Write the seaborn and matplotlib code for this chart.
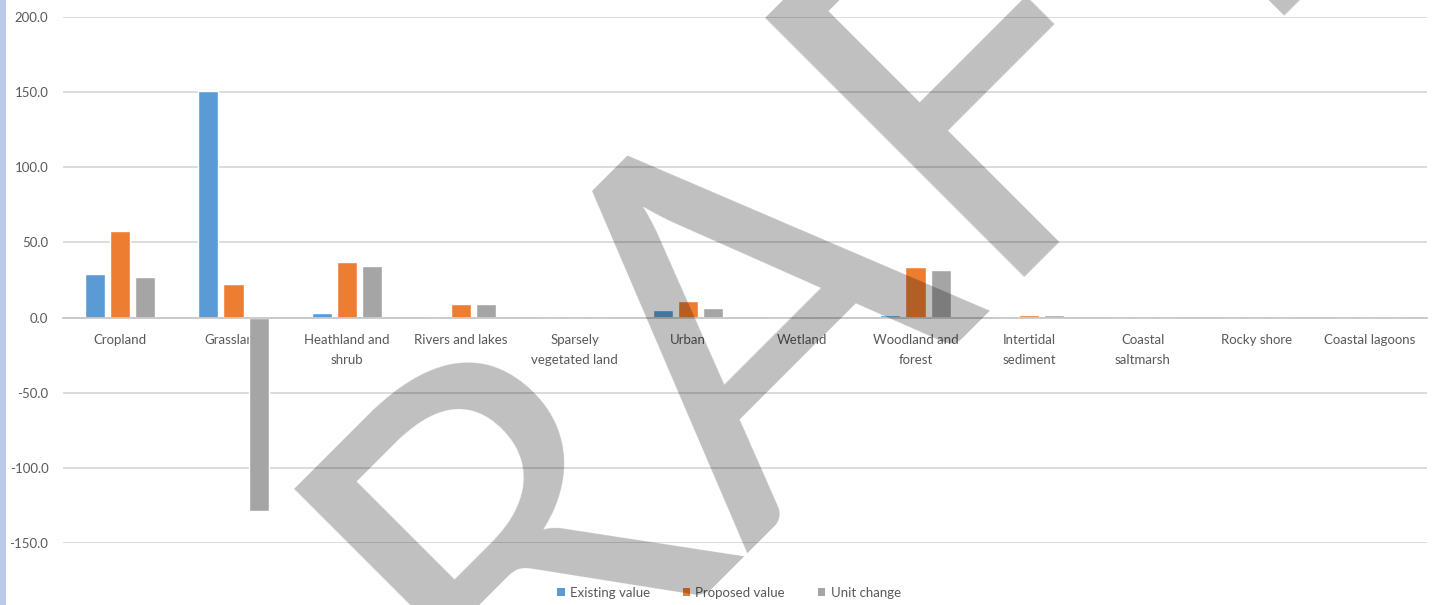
import matplotlib
matplotlib.use("Agg")
import matplotlib.pyplot as plt
from matplotlib.patches import Rectangle, Patch
import pandas as pd
import seaborn as sns

# Land-cover categories and the three value series
categories = [
    "Cropland", "Grassland", "Heathland and\nshrub", "Rivers and lakes",
    "Sparsely\nvegetated land", "Urban", "Wetland", "Woodland and\nforest",
    "Intertidal\nsediment", "Coastal\nsaltmarsh", "Rocky shore", "Coastal lagoons",
]
existing_value = [28.7, 150.9, 3.0, 0.0, 0.0, 4.8, 0.0, 2.0, 0.0, 0.0, 0.0, 0.0]
proposed_value = [57.3, 22.4, 37.3, 9.1, 0.0, 10.9, 0.0, 33.8, 1.5, 0.0, 0.0, 0.0]
unit_change = [27.3, -128.5, 34.3, 9.1, 0.0, 6.1, 0.0, 31.8, 1.5, 0.0, 0.0, 0.0]
series_names = ["Existing value", "Proposed value", "Unit change"]
series_colors = ["#5B9BD5", "#ED7D31", "#A5A5A5"]
y_ticks = [-150, -100, -50, 0, 50, 100, 150, 200]

df = pd.DataFrame({
    "category": categories * 3,
    "series": [s for s in series_names for _ in categories],
    "value": existing_value + proposed_value + unit_change,
})

sns.set_theme(style="white")
plt.rcParams["font.family"] = ["Lato", "DejaVu Sans"]

text_color = "#595959"
W, H = 1439, 605
fig = plt.figure(figsize=(W / 100, H / 100), dpi=100)
fig.patch.set_facecolor("white")
ax = fig.add_axes([63 / W, 1 - 543 / H, (1427 - 63) / W, (543 - 17) / H])

sns.barplot(
    data=df, x="category", y="value", hue="series", order=categories,
    hue_order=series_names, palette=series_colors, saturation=1,
    width=0.66, gap=0.2, errorbar=None, legend=False, ax=ax, zorder=3,
)

ax.set_ylim(-150, 200)
ax.set_xlim(-0.5, len(categories) - 0.5)
ax.set_yticks(y_ticks)
ax.set_yticklabels([f"{v:.1f}" for v in y_ticks])
ax.set_xlabel("")
ax.set_ylabel("")
ax.grid(axis="y", color="#d9d9d9", linewidth=1.3, zorder=0)
ax.grid(axis="x", visible=False)
ax.set_axisbelow(True)
for side in ["left", "right", "top"]:
    ax.spines[side].set_visible(False)
ax.spines["bottom"].set_position(("data", 0))
ax.spines["bottom"].set_color("#c9c9c9")
ax.spines["bottom"].set_linewidth(1.3)
ax.spines["bottom"].set_zorder(4)
ax.tick_params(axis="x", length=0, pad=12, labelsize=9.5, labelcolor=text_color)
ax.tick_params(axis="y", length=0, pad=10.5, labelsize=9.5, labelcolor=text_color)
for lbl in ax.get_xticklabels():
    lbl.set_linespacing(1.75)

handles = [Patch(facecolor=c, edgecolor="none") for c in series_colors]
fig.legend(
    handles, series_names, loc="center", bbox_to_anchor=(729 / W, 1 - 593 / H),
    ncol=3, frameon=False, fontsize=9.5, labelcolor=text_color,
    handlelength=0.55, handleheight=0.55, handletextpad=0.4, columnspacing=2.5,
)

# Left page margin stripe
fig.patches.append(Rectangle((0, 0), 6 / W, 1, transform=fig.transFigure,
                             facecolor="#b8cae8", edgecolor="none", zorder=0))

# Diagonal DRAFT watermark over the chart
fig.text(814 / W, 1 - 440 / H, "DRAFT", rotation=45, rotation_mode="anchor",
         ha="center", va="baseline", fontsize=368, color="black", alpha=0.25,
         zorder=10)

fig.savefig("out.png", dpi=100, facecolor="white")
